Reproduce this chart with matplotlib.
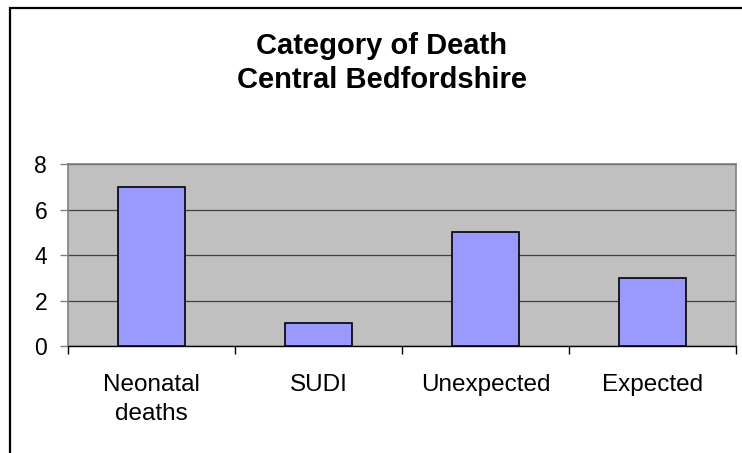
import matplotlib.pyplot as plt
from matplotlib.patches import Rectangle

categories = ["Neonatal\ndeaths", "SUDI", "Unexpected", "Expected"]
deaths = [7, 1, 5, 3]
y_ticks = [0, 2, 4, 6, 8]

plt.rcParams['font.family'] = ['Liberation Sans', 'DejaVu Sans']

fig = plt.figure(figsize=(7.42, 4.53), dpi=100)

# chart border (only left and top edges fall inside the picture)
fig.patches.append(Rectangle((10 / 742, -0.1), 1.2, 1 - 8 / 453 + 0.1,
                             transform=fig.transFigure, fill=False,
                             edgecolor="black", linewidth=1.6))

ax = fig.add_axes([68 / 742, 1 - 346 / 453, (736 - 68) / 742, (346 - 164) / 453])
ax.set_facecolor("#c0c0c0")

x = range(len(categories))
ax.bar(x, deaths, width=0.4, color="#9999ff", edgecolor="black", linewidth=1.2, zorder=3)

ax.set_xlim(-0.5, len(categories) - 0.5)
ax.set_ylim(0, 8)
ax.set_yticks(y_ticks)
ax.yaxis.grid(True, color="#404040", linewidth=0.9)
ax.set_axisbelow(True)

ax.set_xticks(list(x))
ax.set_xticklabels(categories, fontsize=17.5, linespacing=1.42)
ax.set_xticks([i - 0.5 for i in range(len(categories) + 1)], minor=True)
ax.tick_params(axis="x", which="major", length=0, pad=20)
ax.tick_params(axis="x", which="minor", length=6, width=1, color="black", direction="out")
ax.tick_params(axis="y", labelsize=16.5, length=6, width=1, color="#808080", pad=9)

for side in ["top", "right", "left"]:
    ax.spines[side].set_color("#808080")
    ax.spines[side].set_linewidth(1.2)
ax.spines["bottom"].set_color("black")
ax.spines["bottom"].set_linewidth(1.0)

fig.text(382 / 742, 1 - 63 / 453, "Category of Death\nCentral Bedfordshire",
         ha="center", va="center", fontsize=21, fontweight="bold", linespacing=1.3)

fig.savefig("out.png", dpi=100)
